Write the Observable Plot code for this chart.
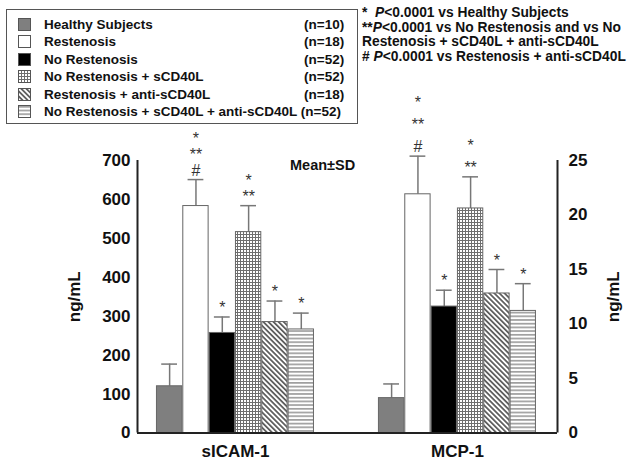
<!DOCTYPE html>
<html>
<head>
<meta charset="utf-8">
<script src="https://cdn.jsdelivr.net/npm/d3@7"></script>
<script src="https://cdn.jsdelivr.net/npm/@observablehq/plot@0.6"></script>
<style>
  html, body { margin: 0; padding: 0; background: #fff; }
  #fig { position: relative; width: 633px; height: 461px; overflow: hidden;
         font-family: "Liberation Sans", Arial, sans-serif; color: #111; }
  #chart { position: absolute; left: 0; top: 0; }
  #legend { position: absolute; left: 6px; top: 9px; width: 350px; height: 113px;
            border: 1.5px solid #555; box-sizing: content-box; }
  #legend .row { position: absolute; left: 0; height: 16px; line-height: 16px;
                 font-size: 13.5px; font-weight: bold; white-space: nowrap; }
  #legend .row svg { position: absolute; left: 11px; top: 1px; }
  #legend .row .name { position: absolute; left: 37px; }
  #legend .row .n { position: absolute; left: 297px; }
  #legend .row .n.inline { position: static; }
  #notes { position: absolute; left: 362px; top: 6px; font-size: 13.8px; font-weight: bold;
           line-height: 14.5px; white-space: nowrap; }
  #mean { position: absolute; left: 290px; top: 157px; font-size: 14.5px; font-weight: bold; }
</style>
</head>
<body>
<svg width="0" height="0" style="position:absolute">
  <defs>
    <pattern id="pat-grid" width="3" height="3" patternUnits="userSpaceOnUse">
      <rect width="3" height="3" fill="#fff"></rect>
      <path d="M0 0.5H3M0.5 0V3" stroke="#6e6e6e" stroke-width="1"></path>
    </pattern>
    <pattern id="pat-diag" width="3.6" height="3.6" patternUnits="userSpaceOnUse" patternTransform="rotate(-45)">
      <rect width="3.6" height="3.6" fill="#fff"></rect>
      <path d="M1.8 0V3.6" stroke="#333" stroke-width="1.4"></path>
    </pattern>
    <pattern id="pat-horiz" width="4" height="3.7" patternUnits="userSpaceOnUse">
      <rect width="4" height="3.7" fill="#fff"></rect>
      <path d="M0 1.8H4" stroke="#777" stroke-width="1.2"></path>
    </pattern>
  </defs>
</svg>
<div id="fig">
  <div id="chart"></div>
  <div id="legend"></div>
  <div id="notes">
    <div>*&nbsp; <i>P</i>&lt;0.0001 vs Healthy Subjects</div>
    <div>**<i>P</i>&lt;0.0001 vs No Restenosis and vs No</div>
    <div>Restenosis + sCD40L + anti-sCD40L</div>
    <div># <i>P</i>&lt;0.0001 vs Restenosis + anti-sCD40L</div>
  </div>
  <div id="mean">Mean±SD</div>
</div>
<script>
// Groups of patients (bar order within each marker)
const series = [
  "Healthy Subjects",
  "Restenosis",
  "No Restenosis",
  "No Restenosis + sCD40L",
  "Restenosis + anti-sCD40L",
  "No Restenosis + sCD40L + anti-sCD40L"
];
const sampleSizes = [10, 18, 52, 52, 18, 52];

// Markers on the x axis
const categories = ["sICAM-1", "MCP-1"];

// sICAM-1, ng/mL (left axis)
const icamMean = [120, 583, 257, 516, 285, 266];
const icamSD   = [57, 68, 41, 68, 54, 42];
const icamSig  = ["", "*\n**\n#", "*", "*\n**", "*", "*"];

// MCP-1, ng/mL (right axis)
const mcpMean = [3.2, 21.9, 11.6, 20.6, 12.8, 11.2];
const mcpSD   = [1.3, 3.5, 1.5, 2.9, 2.2, 2.5];
const mcpSig  = ["", "*\n**\n#", "*", "*\n**", "*", "*"];

// Axis ticks
const leftTicks  = [0, 100, 200, 300, 400, 500, 600, 700];
const rightTicks = [0, 5, 10, 15, 20, 25];

// Fill for each group
const fills = ["#7f7f7f", "#ffffff", "#000000", "url(#pat-grid)", "url(#pat-diag)", "url(#pat-horiz)"];

// The right axis shares the left one's frame: 25 ng/mL sits level with 700 ng/mL
const rightScale = 700 / 25;

// Slot layout along x: each bar takes one unit, groups are GROUP_STEP units apart
const GROUP_STEP = 8.43;
const X_MIN = -0.72, X_MAX = 15.23;

const rows = [];
categories.forEach((cat, g) => {
  const means = g === 0 ? icamMean : mcpMean;
  const sds = g === 0 ? icamSD : mcpSD;
  const sigs = g === 0 ? icamSig : mcpSig;
  const k = g === 0 ? 1 : rightScale;
  series.forEach((s, i) => {
    const x1 = g * GROUP_STEP + i;
    rows.push({
      cat, g, i, series: s,
      x1, x2: x1 + 1, xc: x1 + 0.5,
      mean: means[i] * k,
      hi: (means[i] + sds[i]) * k,
      sig: sigs[i],
      fill: fills[i]
    });
  });
});

const font = { fontSize: 17, fontWeight: "bold", fill: "#111" };

const chart = Plot.plot({
  width: 633,
  height: 461,
  marginTop: 160,
  marginBottom: 28.5,
  marginLeft: 137,
  marginRight: 76,
  style: { fontFamily: "Liberation Sans, Arial, sans-serif", background: "transparent", overflow: "visible" },
  x: { domain: [X_MIN, X_MAX] },
  y: { domain: [0, 700] },
  color: { type: "identity" },
  marks: [
    // error bars
    Plot.ruleX(rows, { x: "xc", y1: "mean", y2: "hi", stroke: "#777", strokeWidth: 1.5 }),
    Plot.ruleY(rows, { y: "hi", x1: d => d.xc - 0.3, x2: d => d.xc + 0.3, stroke: "#777", strokeWidth: 1.5 }),
    // bars
    Plot.rect(rows, {
      x1: "x1", x2: "x2", y1: 0, y2: "mean",
      fill: "fill", stroke: "#666", strokeWidth: 1,
      insetLeft: 0.5, insetRight: 0.5
    }),
    // significance marks
    Plot.text(rows.filter(d => d.g === 0), {
      x: "xc", y: "hi", text: "sig", lineAnchor: "bottom", dy: -4,
      lineHeight: 1.0, fontSize: 16, fill: "#333"
    }),
    Plot.text(rows.filter(d => d.g === 1), {
      x: "xc", y: "hi", text: "sig", lineAnchor: "bottom", dy: -4,
      lineHeight: 1.37, fontSize: 16, fill: "#333"
    }),
    // axis lines
    Plot.ruleY([0], { stroke: "#222", strokeWidth: 2 }),
    Plot.ruleX([X_MIN, X_MAX], { y1: 0, y2: 700, stroke: "#222", strokeWidth: 2 }),
    // axes
    Plot.axisY(leftTicks, {
      anchor: "left", tickSize: 0, tickPadding: 7, ...font,
      label: "ng/mL", labelAnchor: "center", labelOffset: 70, labelArrow: "none"
    }),
    Plot.axisY(rightTicks.map(v => v * rightScale), {
      anchor: "right", tickSize: 0, tickPadding: 11, ...font,
      tickFormat: v => String(Math.round(v / rightScale)),
      label: "ng/mL", labelAnchor: "center", labelOffset: 61, labelArrow: "none"
    }),
    Plot.axisX(categories.map((c, g) => g * GROUP_STEP + 3), {
      anchor: "bottom", tickSize: 0, tickPadding: 12, ...font,
      tickFormat: (v, i) => categories[i], label: null
    })
  ]
});
document.getElementById("chart").appendChild(chart);

// Legend: swatch, group name and sample size
const legend = d3.select("#legend");
series.forEach((s, i) => {
  const row = legend.append("div").attr("class", "row").style("top", `${7 + i * 17.4}px`);
  const sw = row.append("svg").attr("width", 13).attr("height", 13);
  sw.append("rect").attr("x", 0.5).attr("y", 0.5).attr("width", 12).attr("height", 12)
    .attr("fill", fills[i]).attr("stroke", "#555").attr("stroke-width", 1);
  const name = row.append("span").attr("class", "name").text(s);
  const n = `(n=${sampleSizes[i]})`;
  if (i === series.length - 1) {
    // the longest name runs straight into its sample size
    name.text(`${s} ${n}`);
  } else {
    row.append("span").attr("class", "n").text(n);
  }
});
</script>
</body>
</html>
